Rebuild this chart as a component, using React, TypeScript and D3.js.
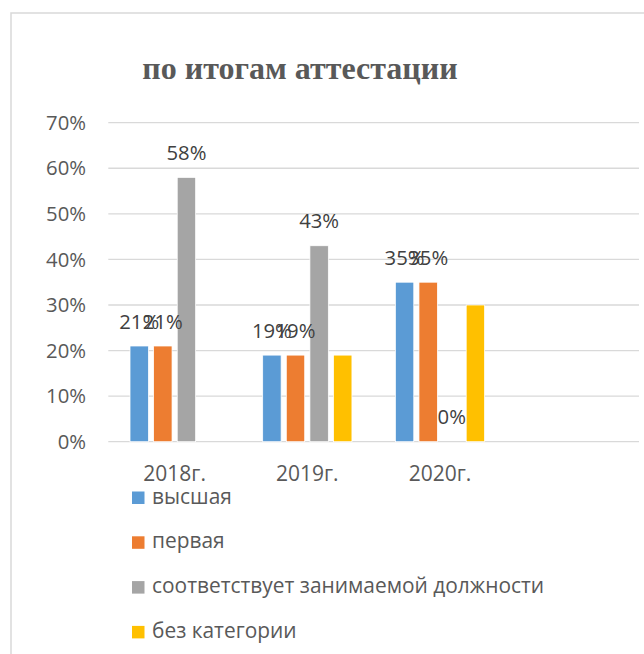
import React from "react";
import * as d3 from "d3";

const categories = ["2018г.", "2019г.", "2020г.", ""];
const seriesNames = ["высшая", "первая", "соответствует занимаемой должности", "без категории"];
const seriesColors = ["#5B9BD5", "#ED7D31", "#A5A5A5", "#FFC000"];
const vHigh: (number | null)[] = [0.21, 0.19, 0.35, null];
const vFirst: (number | null)[] = [0.21, 0.19, 0.35, null];
const vPosition: (number | null)[] = [0.58, 0.43, 0, null];
const vNone: (number | null)[] = [null, 0.19, 0.30, null];
const labelled = [true, true, true, false];
const yTicks = [0, 0.1, 0.2, 0.3, 0.4, 0.5, 0.6, 0.7];
const title = "по итогам аттестации";

const W = 644;
const H = 654;
const SANS = "'Open Sans', 'Noto Sans', sans-serif";

export default function App() {
  const series = [vHigh, vFirst, vPosition, vNone];
  const x = d3.scaleBand<string>().domain(categories.map((c, i) => String(i))).range([108.3, 639]).paddingInner(0).paddingOuter(0);
  const xs = d3.scaleBand<string>().domain(seriesNames).range([0, x.bandwidth()]).paddingInner(0.22).paddingOuter(0.92);
  const y = d3.scaleLinear().domain([0, 0.7]).range([441.7, 122.7]);
  const fmt = d3.format(".0%");

  return (
    <svg width={W} height={H} style={{ position: "absolute", left: 0, top: 0, background: "#fff" }}>
      <rect x={11} y={13} width={800} height={800} fill="#fff" stroke="#D9D9D9" strokeWidth={1.5} />
      <text x={300} y={79.3} textAnchor="middle" fontFamily="'Liberation Serif', 'Times New Roman', serif" fontWeight="bold" fontSize={32} fill="#595959">{title}</text>
      {yTicks.map((t) => (
        <g key={t}>
          <line x1={108.3} x2={639} y1={y(t)} y2={y(t)} stroke="#D9D9D9" strokeWidth={1.3} />
          <text x={86} y={y(t)} dy="0.35em" textAnchor="end" fontFamily={SANS} fontSize={20.3} fill="#595959">{fmt(t)}</text>
        </g>
      ))}
      {categories.map((c, ci) => (
        <g key={ci} transform={`translate(${x(String(ci))},0)`}>
          {series.map((s, si) => {
            const v = s[ci];
            if (v === null) return null;
            const bx = xs(seriesNames[si])!;
            return (
              <g key={si}>
                <rect x={bx} y={y(v)} width={xs.bandwidth()} height={y(0) - y(v)} fill={seriesColors[si]} stroke="#fff" strokeWidth={0.75} />
              </g>
            );
          })}
          {series.map((s, si) => {
            const v = s[ci];
            if (v === null || !labelled[si]) return null;
            const bx = xs(seriesNames[si])!;
            return (
              <text key={"l" + si} x={bx + xs.bandwidth() / 2} y={y(v) - 17.5} textAnchor="middle" fontFamily={SANS} fontSize={20.3} fill="#404040">{fmt(v)}</text>
            );
          })}
          <text x={x.bandwidth() / 2} y={481} textAnchor="middle" fontFamily={SANS} fontSize={21} fill="#595959">{c}</text>
        </g>
      ))}
      {seriesNames.map((n, i) => (
        <g key={n} transform={`translate(132,${491.5 + i * 44.8})`}>
          <rect x={0} y={0} width={12.5} height={12.5} fill={seriesColors[i]} />
          <text x={20} y={12} fontFamily={SANS} fontSize={20.9} fill="#595959">{n}</text>
        </g>
      ))}
    </svg>
  );
}
